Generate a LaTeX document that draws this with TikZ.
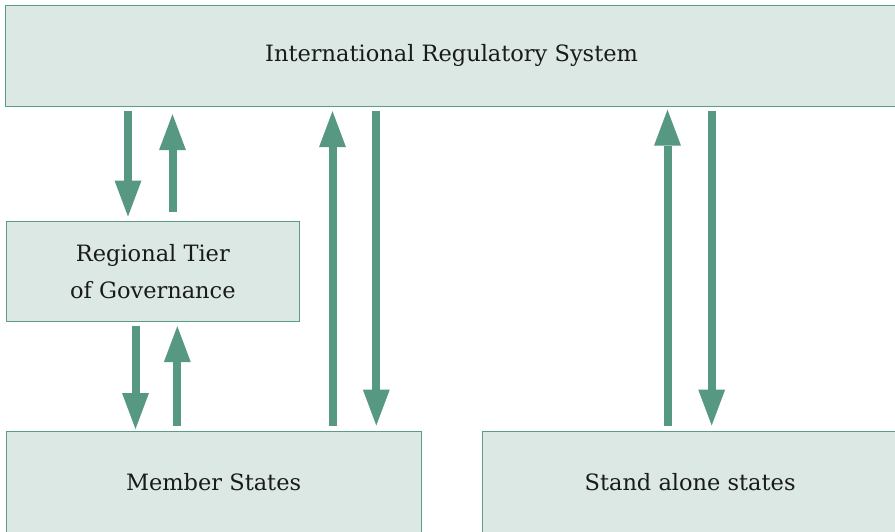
\documentclass[tikz,border=0pt]{standalone}
\usepackage{fontspec}
\setmainfont{DejaVu Serif}
\usetikzlibrary{arrows.meta}
\definecolor{boxfill}{HTML}{DCE8E3}
\definecolor{boxline}{HTML}{5A9C88}
\definecolor{arrcol}{HTML}{579883}
\definecolor{txt}{HTML}{1A1A1A}
\tikzset{
  box/.style={draw=boxline, fill=boxfill, line width=1.2pt, anchor=north west,
    inner sep=0pt, text=txt, align=center, font=\fontsize{22.5}{37}\selectfont},
  arr/.style={draw=arrcol, line width=8pt,
    -{Triangle[width=27pt,length=36pt,line width=0pt]}}
}
\begin{document}
\begin{tikzpicture}[x=1pt,y=-1pt]
\useasboundingbox (0,0) rectangle (895,531);
\node[box, minimum width=892pt, minimum height=101pt] (irs) at (5,4.5) {International Regulatory System};
\node[box, minimum width=293.5pt, minimum height=100.5pt] (rtg) at (5.5,220.5) {Regional Tier\\of Governance};
\node[box, minimum width=415pt, minimum height=103pt] (mem) at (5.5,430.5) {Member States};
\node[box, minimum width=415pt, minimum height=103pt] (sas) at (482,430.5) {Stand alone states};
\coordinate (c1) at (128,0);
\coordinate (c2) at (172.5,0);
\coordinate (c3) at (135.5,0);
\coordinate (c4) at (177.3,0);
\coordinate (c5) at (332.5,0);
\coordinate (c6) at (376.3,0);
\coordinate (c7) at (667.5,0);
\coordinate (c8) at (711.7,0);
\draw[arr, shorten <=4.5pt, shorten >=4pt] (irs.south -| c1) -- (rtg.north -| c1);
\draw[arr, shorten <=8.5pt, shorten >=7.5pt] (rtg.north -| c2) -- (irs.south -| c2);
\draw[arr, shorten <=3.5pt, shorten >=1.5pt] (rtg.south -| c3) -- (mem.north -| c3);
\draw[arr, shorten <=5pt, shorten >=4pt] (mem.north -| c4) -- (rtg.south -| c4);
\draw[arr, shorten <=5pt, shorten >=4.5pt] (mem.north -| c5) -- (irs.south -| c5);
\draw[arr, shorten <=4.5pt, shorten >=5pt] (irs.south -| c6) -- (mem.north -| c6);
\draw[arr, shorten <=5pt, shorten >=3pt] (sas.north -| c7) -- (irs.south -| c7);
\draw[arr, shorten <=4.5pt, shorten >=5pt] (irs.south -| c8) -- (sas.north -| c8);
\end{tikzpicture}
\end{document}
